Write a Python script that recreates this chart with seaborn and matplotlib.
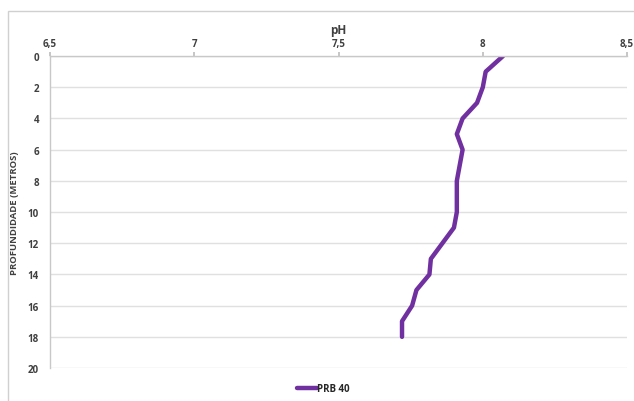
import matplotlib
matplotlib.use("Agg")
import matplotlib.pyplot as plt
import seaborn as sns
import pandas as pd
from matplotlib.patches import Rectangle

# pH profile of well PRB 40 by depth (metres)
depth = [0, 1, 2, 3, 4, 5, 6, 7, 8, 9, 10, 11, 12, 13, 14, 15, 16, 17, 18]
ph = [8.07, 8.01, 8.00, 7.98, 7.93, 7.91, 7.93, 7.92, 7.91, 7.91, 7.91,
      7.90, 7.86, 7.82, 7.815, 7.77, 7.755, 7.72, 7.72]
series_name = "PRB 40"

x_ticks = [6.5, 7, 7.5, 8, 8.5]
x_tick_labels = ["6,5", "7", "7,5", "8", "8,5"]
y_ticks = [0, 2, 4, 6, 8, 10, 12, 14, 16, 18, 20]

df = pd.DataFrame({"pH": ph, "depth": depth, "serie": series_name})

sns.set_theme(style="white")
plt.rcParams["font.family"] = ["Open Sans", "DejaVu Sans"]

fig = plt.figure(figsize=(6.34, 4.02), dpi=100)
ax = fig.add_axes([0.079, 0.082, 0.910, 0.776])

# outer chart frame
fig.patches.append(Rectangle((0.012, -0.01), 1.0, 0.98, transform=fig.transFigure,
                             fill=False, edgecolor="#d0d0d0", linewidth=1.0))

sns.lineplot(data=df, x="pH", y="depth", hue="serie", orient="y",
             estimator=None, palette=["#7030a0"], linewidth=3.2, ax=ax,
             legend=False)
for line in ax.lines:
    line.set_solid_joinstyle("round")
    line.set_solid_capstyle("round")

ax.set_xlim(6.5, 8.5)
ax.set_ylim(20, 0)
ax.xaxis.tick_top()
ax.xaxis.set_label_position("top")
ax.set_xticks(x_ticks)
ax.set_xticklabels(x_tick_labels, fontsize=7, fontweight="bold", color="#404040")
ax.set_yticks(y_ticks)
ax.set_yticklabels([str(v) for v in y_ticks], fontsize=7, fontweight="bold", color="#404040")
ax.tick_params(axis="x", length=3, color="#bfbfbf", pad=2, top=True, bottom=False)
ax.tick_params(axis="y", length=0, pad=8)

ax.set_xlabel("pH", fontsize=8.5, fontweight="bold", color="#404040", labelpad=4)
ax.set_ylabel("PROFUNDIDADE (METROS)", fontsize=6.8, fontweight="bold",
              color="#404040", labelpad=6)

ax.grid(axis="y", color="#e0e0e0", linewidth=1.0)
ax.grid(axis="x", visible=False)
for side in ["right", "bottom"]:
    ax.spines[side].set_visible(False)
ax.spines["top"].set_color("#c8c8c8")
ax.spines["left"].set_color("#c8c8c8")
ax.spines["top"].set_linewidth(1.0)
ax.spines["left"].set_linewidth(1.0)

handle = plt.Line2D([], [], color="#7030a0", linewidth=3.2)
fig.legend([handle], [series_name], loc="center", bbox_to_anchor=(0.51, 0.03),
           frameon=False, handlelength=2.0, handletextpad=0.0,
           prop={"weight": "bold", "size": 7})

fig.savefig("out.png", dpi=100)
